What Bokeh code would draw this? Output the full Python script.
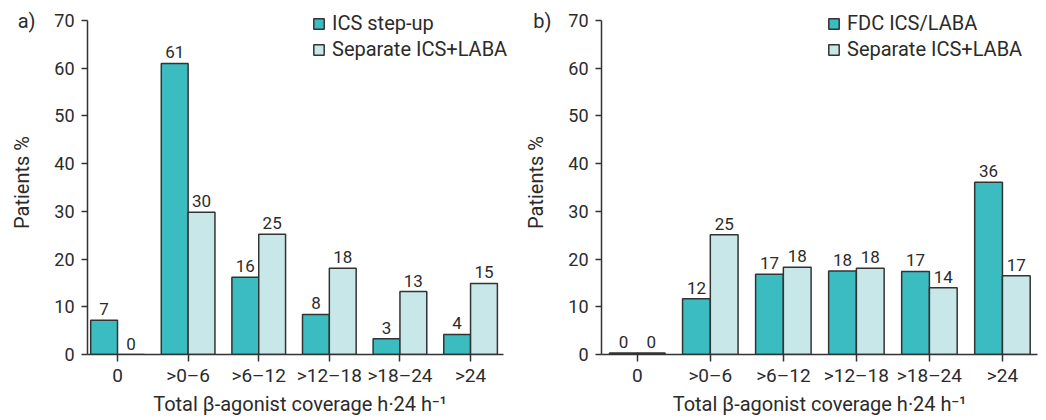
from bokeh.plotting import figure
from bokeh.models import (ColumnDataSource, FixedTicker, Range1d, Legend, LegendItem,
                          LinearAxis)
from bokeh.layouts import row
from bokeh.core.properties import value
from bokeh.embed import file_html
from bokeh.resources import INLINE

categories = ["0", ">0\u20136", ">6\u201312", ">12\u201318", ">18\u201324", ">24"]

a_series1_name = "ICS step-up"
a_series2_name = "Separate ICS+LABA"
a_series1 = [7.2, 61.0, 16.2, 8.4, 3.3, 4.2]
a_series2 = [0.0, 29.8, 25.2, 18.1, 13.2, 14.9]
a_labels1 = ["7", "61", "16", "8", "3", "4"]
a_labels2 = ["0", "30", "25", "18", "13", "15"]

b_series1_name = "FDC ICS/LABA"
b_series2_name = "Separate ICS+LABA"
b_series1 = [0.3, 11.7, 16.8, 17.5, 17.4, 36.1]
b_series2 = [0.3, 25.1, 18.3, 18.1, 14.0, 16.5]
b_labels1 = ["0", "12", "17", "18", "17", "36"]
b_labels2 = ["0", "25", "18", "18", "14", "17"]

y_ticks = [0, 10, 20, 30, 40, 50, 60, 70]
y_max = 70
x_title = "Total \u03b2-agonist coverage h\u00b724 h\u207b\u00b9"
y_title = "Patients %"

FONT = "Roboto"
TEAL = "#3bbcc1"
LIGHT = "#c8e7e9"
EDGE = "#333333"
TXT = "#2b2b2b"
W = 0.38
H = 418
TOP = 10          # frame top (px) - legend lives inside the frame
BOTTOM = 64       # bottom border (px)
Y_TOP_PX = 20     # where the 70 tick sits


def make_panel(letter, s1, s2, l1, l2, n1, n2, width, border_left, border_right,
               x_lo, x_axis_hi, x_hi, legend_x, letter_standoff, title_standoff):
    frame_h = H - TOP - BOTTOM
    px_per_unit = (frame_h - (Y_TOP_PX - TOP)) / y_max
    y_hi = y_max + (Y_TOP_PX - TOP) / px_per_unit
    p = figure(width=width, height=H, output_backend="svg", toolbar_location=None,
               title=None,
               x_range=Range1d(x_lo, x_hi), y_range=Range1d(0, y_hi),
               min_border_left=border_left, min_border_right=border_right,
               min_border_top=TOP, min_border_bottom=BOTTOM)
    p.outline_line_color = None
    p.xgrid.visible = False
    p.ygrid.visible = False
    xs = list(range(len(categories)))
    src = ColumnDataSource(dict(
        x1=[x - W / 2 for x in xs], x2=[x + W / 2 for x in xs],
        s1=s1, s2=s2, l1=l1, l2=l2))
    r1 = p.vbar(x="x1", top="s1", width=W, source=src, fill_color=TEAL,
                line_color=EDGE, line_width=1.5)
    r2 = p.vbar(x="x2", top="s2", width=W, source=src, fill_color=LIGHT,
                line_color=EDGE, line_width=1.5)
    for xc, yc, tc in (("x1", "s1", "l1"), ("x2", "s2", "l2")):
        p.text(x=xc, y=yc, text=tc, source=src, text_align="center",
               text_baseline="bottom", y_offset=-5, text_font=value(FONT),
               text_font_size="17px", text_color=TXT)

    p.xaxis.ticker = FixedTicker(ticks=xs)
    p.xaxis.major_label_overrides = {i: c for i, c in enumerate(categories)}
    p.yaxis.ticker = FixedTicker(ticks=y_ticks)
    p.xaxis.bounds = (x_lo, x_axis_hi)
    p.yaxis.bounds = (0, y_max)
    for ax in (p.xaxis, p.yaxis):
        ax.axis_line_color = EDGE
        ax.axis_line_width = 1.5
        ax.major_tick_line_color = EDGE
        ax.major_tick_line_width = 1.5
        ax.minor_tick_line_color = None
        ax.major_tick_in = 0
        ax.major_label_text_font = FONT
        ax.major_label_text_color = TXT
        ax.axis_label_text_font = FONT
        ax.axis_label_text_font_size = "20px"
        ax.axis_label_text_font_style = "normal"
        ax.axis_label_text_color = TXT
    p.xaxis.major_label_text_font_size = "19px"
    p.yaxis.major_label_text_font_size = "18px"
    p.xaxis.major_tick_out = 7
    p.xaxis.major_label_standoff = 2
    p.yaxis.major_tick_out = 6
    p.yaxis.major_label_standoff = 7
    p.xaxis.axis_label = x_title
    p.xaxis.axis_label_standoff = 2

    # outer left axis: panel letter as its single tick label, y title as its label
    outer = LinearAxis(ticker=FixedTicker(ticks=[y_max]),
                       major_label_overrides={y_max: letter},
                       axis_line_color=None, major_tick_line_color=None,
                       minor_tick_line_color=None, major_tick_in=0, major_tick_out=0,
                       major_label_standoff=letter_standoff,
                       major_label_text_font=FONT, major_label_text_font_size="20px",
                       major_label_text_color=TXT,
                       axis_label=y_title, axis_label_standoff=title_standoff,
                       axis_label_text_font=FONT, axis_label_text_font_size="20px",
                       axis_label_text_font_style="normal", axis_label_text_color=TXT)
    p.add_layout(outer, "left")

    legend = Legend(items=[LegendItem(label=n1, renderers=[r1]),
                           LegendItem(label=n2, renderers=[r2])],
                    location=(legend_x, frame_h - 51), padding=0, margin=0, spacing=2,
                    label_height=20, glyph_width=13, glyph_height=13,
                    label_standoff=7, border_line_alpha=0,
                    background_fill_alpha=0, label_text_font=FONT,
                    label_text_font_size="20px", label_text_color=TXT)
    p.add_layout(legend)
    return p


pa = make_panel("a)", a_series1, a_series2, a_labels1, a_labels2, a_series1_name, a_series2_name,
                width=512, border_left=87, border_right=0, x_lo=-0.425, x_axis_hi=5.467,
                x_hi=5.594, legend_x=225, letter_standoff=16, title_standoff=-19)
pb = make_panel("b)", b_series1, b_series2, b_labels1, b_labels2, b_series1_name, b_series2_name,
                width=528, border_left=89, border_right=3, x_lo=-0.49, x_axis_hi=5.48,
                x_hi=5.48, legend_x=226, letter_standoff=14, title_standoff=-18)

layout = row(pa, pb)
open("out.html", "w").write(file_html(layout, INLINE))
